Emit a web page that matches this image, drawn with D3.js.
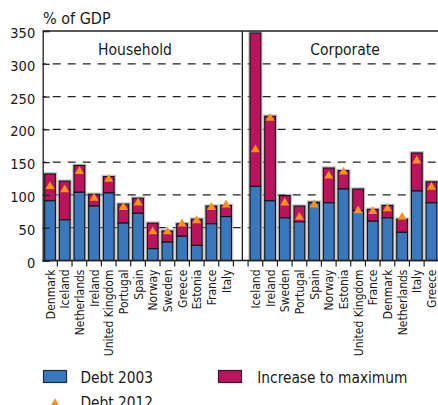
<!DOCTYPE html>
<html>
<head>
<meta charset="utf-8">
<script src="https://cdn.jsdelivr.net/npm/d3@7"></script>
<style>
  html, body { margin: 0; padding: 0; background: #fff; }
  svg { display: block; }
  text { font-family: "DejaVu Sans Condensed", "DejaVu Sans", sans-serif; fill: #1a1a1a; }
</style>
</head>
<body>
<svg id="chart" width="438" height="405"></svg>
<script>
// ---- Data ----
const householdCountries = ["Denmark","Iceland","Netherlands","Ireland","United Kingdom","Portugal","Spain","Norway","Sweden","Greece","Estonia","France","Italy"];
const householdDebt2003 = [91, 62, 104, 83, 103, 57, 72, 18, 28, 37, 23, 56, 67];
const householdIncrease = [41, 59, 41, 18, 25, 29, 23, 39, 17, 19, 40, 27, 17];
const householdDebt2012 = [113, 108, 136, 95, 124, 81, 88, 44, 44, 56, 61, 81, 85];

const corporateCountries = ["Iceland","Ireland","Sweden","Portugal","Spain","Norway","Estonia","United Kingdom","France","Denmark","Netherlands","Italy","Greece"];
const corporateDebt2003 = [113, 91, 65, 59, 88, 88, 109, 76, 60, 65, 43, 106, 88];
const corporateIncrease = [234, 129, 34, 24, 1, 53, 28, 33, 18, 19, 20, 58, 32];
const corporateDebt2012 = [169, 217, 88, 66, 85, 129, 135, 76, 75, 79, 66, 152, 112];

const yTicks = [0, 50, 100, 150, 200, 250, 300, 350];
const gridValues = [50, 100, 150, 200, 250, 300];
const panelTitles = ["Household", "Corporate"];
const yTitle = "% of GDP";
const legendLabels = ["Debt 2003", "Increase to maximum", "Debt 2012"];

const colBlue = "#3a78bd", colMag = "#ba145e", colOrange = "#f7921e";

// ---- Build rows ----
const rows = [];
householdCountries.forEach((c, i) => rows.push({key: "H-" + c, name: c, d03: householdDebt2003[i], inc: householdIncrease[i], d12: householdDebt2012[i]}));
corporateCountries.forEach((c, i) => rows.push({key: "C-" + c, name: c, d03: corporateDebt2003[i], inc: corporateIncrease[i], d12: corporateDebt2012[i]}));
const keys = householdCountries.map(c => "H-" + c).concat(["gap"], corporateCountries.map(c => "C-" + c));

const plotLeft = 42.7, plotTop = 31, plotBottom = 260.5;
const plotRight = plotLeft + 27 * 14.67;
const x = d3.scaleBand().domain(keys).range([plotLeft, plotRight]).padding(0);
const y = d3.scaleLinear().domain([0, 350]).range([plotBottom, plotTop]);
const step = x.step();
const bw = step * 0.73;

const svg = d3.select("#chart");

// Grid lines
svg.append("g").selectAll("line").data(gridValues).join("line")
  .attr("x1", plotLeft).attr("x2", plotRight)
  .attr("y1", d => y(d)).attr("y2", d => y(d))
  .attr("stroke", "#222").attr("stroke-width", 1.3)
  .attr("stroke-dasharray", "8,7").attr("stroke-dashoffset", -10);

// Bars
const bars = svg.append("g").selectAll("g").data(rows).join("g")
  .attr("transform", d => `translate(${x(d.key) + (step - bw) / 2},0)`);
bars.append("rect")
  .attr("x", -0.5).attr("width", bw + 1)
  .attr("y", d => y(d.d03 + d.inc) - 0.5).attr("height", d => y(0) - y(d.d03 + d.inc) + 0.5)
  .attr("fill", "none").attr("stroke", "#999").attr("stroke-width", 2.6).attr("stroke-opacity", 0.6);
bars.append("rect")
  .attr("width", bw)
  .attr("y", d => y(d.d03 + d.inc)).attr("height", d => y(d.d03) - y(d.d03 + d.inc))
  .attr("fill", colMag).attr("stroke", "#111").attr("stroke-width", 1.1);
bars.append("rect")
  .attr("width", bw)
  .attr("y", d => y(d.d03)).attr("height", d => y(0) - y(d.d03))
  .attr("fill", colBlue).attr("stroke", "#111").attr("stroke-width", 1.1);

// Triangles
const tri = d3.symbol().type(d3.symbolTriangle).size(36);
svg.append("g").selectAll("path").data(rows).join("path")
  .attr("d", tri)
  .attr("transform", d => `translate(${x(d.key) + step / 2},${y(d.d12)})`)
  .attr("fill", colOrange);

// Frame: top border, divider
svg.append("line").attr("x1", plotLeft).attr("x2", plotRight).attr("y1", plotTop).attr("y2", plotTop)
  .attr("stroke", "#222").attr("stroke-width", 1.3);
const divX = x("gap") + step * 0.61;
svg.append("line").attr("x1", divX).attr("x2", divX).attr("y1", plotTop).attr("y2", plotBottom)
  .attr("stroke", "#222").attr("stroke-width", 1.3);

// Y axis
const yAxis = d3.axisLeft(y).tickValues(yTicks).tickSize(-7).tickPadding(7.5);
const gy = svg.append("g").attr("transform", `translate(${plotLeft},0)`).call(yAxis);
gy.select(".domain").attr("stroke", "#222").attr("stroke-width", 1.3);
gy.selectAll(".tick line").attr("stroke", "#222").attr("stroke-width", 1.3);
gy.selectAll(".tick text").attr("font-size", 14.5).attr("dy", "0.45em")
  .style("font-family", '"DejaVu Sans Condensed","DejaVu Sans",sans-serif').attr("fill", "#1a1a1a");
gy.selectAll(".tick").filter(d => d === 350).select("line").remove();

// X axis baseline and boundary ticks
svg.append("line").attr("x1", plotLeft).attr("x2", plotRight).attr("y1", plotBottom).attr("y2", plotBottom)
  .attr("stroke", "#222").attr("stroke-width", 1.3);
const bounds = [];
keys.forEach(k => { if (k !== "gap") bounds.push(x(k), x(k) + step); });
const uniqBounds = Array.from(new Set(bounds.map(b => b.toFixed(2)))).map(Number).filter(b => b > plotLeft + 1);
svg.append("g").selectAll("line").data(uniqBounds).join("line")
  .attr("x1", d => d).attr("x2", d => d).attr("y1", plotBottom).attr("y2", plotBottom + 6)
  .attr("stroke", "#222").attr("stroke-width", 1.2);

// Category labels
svg.append("g").selectAll("text").data(rows).join("text")
  .attr("transform", d => `translate(${x(d.key) + step / 2 + 0.3},${plotBottom + 9}) rotate(-90)`)
  .attr("text-anchor", "end").attr("dy", "0.36em")
  .attr("font-size", 12)
  .text(d => d.name);

// Panel titles
svg.append("text").attr("x", 135).attr("y", 55).attr("text-anchor", "middle").attr("font-size", 15.5).text(panelTitles[0]);
svg.append("text").attr("x", 345).attr("y", 55).attr("text-anchor", "middle").attr("font-size", 15.5).text(panelTitles[1]);

// Y title
svg.append("text").attr("x", 43).attr("y", 23.5).attr("font-size", 16).text(yTitle);

// Legend
const lg = svg.append("g");
lg.append("rect").attr("x", 43.5).attr("y", 370.5).attr("width", 23).attr("height", 12)
  .attr("fill", colBlue).attr("stroke", "#1b2b44").attr("stroke-width", 1.2);
lg.append("text").attr("x", 80.5).attr("y", 383.3).attr("font-size", 15.3).text(legendLabels[0]);
lg.append("rect").attr("x", 218.5).attr("y", 370.5).attr("width", 23).attr("height", 12)
  .attr("fill", colMag).attr("stroke", "#3b1426").attr("stroke-width", 1.2);
lg.append("text").attr("x", 257.3).attr("y", 383.3).attr("font-size", 15.3).text(legendLabels[1]);
lg.append("path").attr("d", d3.symbol().type(d3.symbolTriangle).size(90))
  .attr("transform", "translate(55,406.5)").attr("fill", colOrange);
lg.append("text").attr("x", 80.5).attr("y", 408.3).attr("font-size", 15.3).text(legendLabels[2]);
</script>
</body>
</html>
